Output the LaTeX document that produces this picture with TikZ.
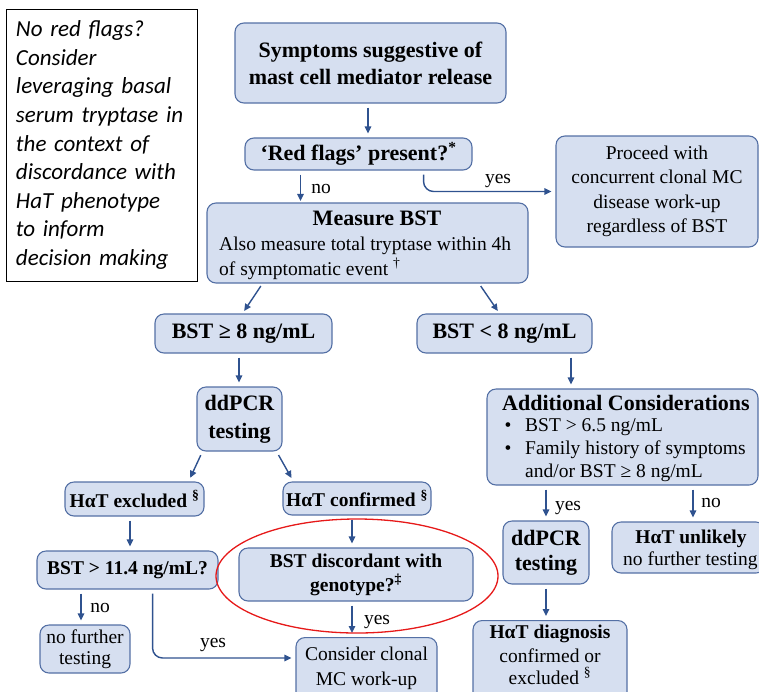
\documentclass[tikz,border=0pt]{standalone}
\usepackage{fontspec}
\setmainfont{Liberation Serif}
\newfontfamily\notefont{Carlito}
\usetikzlibrary{arrows.meta,shapes.geometric}

\definecolor{boxfill}{RGB}{214,223,240}
\definecolor{boxline}{RGB}{84,112,165}
\definecolor{arrowc}{RGB}{47,82,143}
\definecolor{ringred}{RGB}{230,25,25}

\newcommand\headfont{\fontsize{22}{27}\selectfont\bfseries}
\newcommand\subheadfont{\fontsize{19.5}{24}\selectfont\bfseries}
\newcommand\plainfont{\fontsize{19.5}{24.5}\selectfont}

\tikzset{
  box/.style={draw=boxline, fill=boxfill, line width=1.1pt, rounded corners=9pt,
    align=center, inner sep=0pt},
  notebox/.style={draw=black, fill=white, line width=1pt, inner sep=0pt,
    align=left, font=\notefont\itshape\fontsize{23}{28.6}\selectfont},
  txt/.style={inner sep=0pt, anchor=base},
  lbl/.style={inner sep=0pt, anchor=base, font=\plainfont},
  flow/.style={draw=arrowc, line width=1.4pt, shorten <=4pt, shorten >=4pt,
    -{Triangle[length=7pt,width=6.5pt]}},
  ring/.style={draw=ringred, line width=1.3pt, ellipse, inner sep=0pt},
}

\begin{document}
\begin{tikzpicture}[x=1pt,y=-1pt]
\useasboundingbox (0,0) rectangle (759,691);
\clip (0,0) rectangle (759,691);

% side note
\node[notebox, minimum width=191, minimum height=272, text width=171] (note) at (101.5,145)
  {No red flags?\\ Consider\\ leveraging basal\\ serum tryptase in\\ the context of\\
   discordance with\\ HaT phenotype\\ to inform\\ decision making};

% top of the flow
\node[box, minimum width=271, minimum height=80, font=\headfont] (sym) at (370.5,63)
  {Symptoms suggestive of\\ mast cell mediator release};
\node[box, minimum width=227, minimum height=32, font=\headfont] (red) at (358.5,154)
  {‘Red flags’ present?\textsuperscript{*}};
\node[box, minimum width=202, minimum height=111, font=\plainfont] (proceed) at (657,191.5)
  {Proceed with\\ concurrent clonal MC\\ disease work-up\\ regardless of BST};

% measure basal serum tryptase
\node[box, minimum width=321, minimum height=80] (meas) at (367.5,243) {};
\node[txt, font=\headfont] (meastitle) at (377,225) {Measure BST};
\node[txt, anchor=base west, font=\plainfont] (measline1) at (219,250)
  {Also measure total tryptase within 4h};
\node[txt, anchor=base west, font=\plainfont] (measline2) at (219,275)
  {of symptomatic event \textsuperscript{†}};

% tryptase level branches
\node[box, minimum width=177, minimum height=39, font=\headfont] (bstge) at (243.5,333.5)
  {BST ≥ 8 ng/mL};
\node[box, minimum width=175, minimum height=39, font=\headfont] (bstlt) at (504.5,333.5)
  {BST < 8 ng/mL};

% left branch
\node[box, minimum width=85, minimum height=64, font=\fontsize{22}{28}\selectfont\bfseries]
  (dd1) at (239.5,419) {ddPCR\\ testing};
\node[box, minimum width=139, minimum height=34, font=\subheadfont] (excl) at (134.5,499)
  {HαT excluded \textsuperscript{§}};
\node[box, minimum width=148, minimum height=33, font=\subheadfont] (conf) at (357,498.5)
  {HαT confirmed \textsuperscript{§}};
\node[box, minimum width=181, minimum height=38, font=\subheadfont] (bst11) at (127.5,570)
  {BST > 11.4 ng/mL?};
\node[box, minimum width=234, minimum height=53, font=\subheadfont] (disc) at (356,574.5)
  {BST discordant with\\ genotype?\textsuperscript{‡}};
\node[box, minimum width=90, minimum height=48, font=\fontsize{19.5}{21}\selectfont]
  (nofur) at (85,649) {no further\\ testing};
\node[box, minimum width=141, minimum height=70, anchor=north] (cons) at (366.5,637) {};
\node[txt, font=\plainfont] (consline1) at (366.5,660) {Consider clonal};
\node[txt, font=\plainfont] (consline2) at (366.5,685) {MC work-up};

% right branch
\node[box, minimum width=271, minimum height=96] (add) at (622.5,437) {};
\node[txt, anchor=base west, font=\headfont] (addtitle) at (502,410) {Additional Considerations};
\node[txt, font=\plainfont] (bul1) at (508,431) {•};
\node[txt, anchor=base west, font=\plainfont] (add1) at (525,431) {BST > 6.5 ng/mL};
\node[txt, font=\plainfont] (bul2) at (508,454) {•};
\node[txt, anchor=base west, font=\plainfont] (add2) at (525,454) {Family history of symptoms};
\node[txt, anchor=base west, font=\plainfont] (add3) at (525,477) {and/or BST ≥ 8 ng/mL};

\node[box, minimum width=86, minimum height=63, font=\fontsize{22}{25}\selectfont\bfseries]
  (dd2) at (546,552.5) {ddPCR\\ testing};
\node[box, minimum width=153, minimum height=51] (unl) at (688.5,547.5) {};
\node[txt, font=\subheadfont] (unltitle) at (691,543) {HαT unlikely};
\node[txt, anchor=base west, font=\plainfont] (unlline) at (623,565) {no further testing};
\node[box, minimum width=154, minimum height=90, anchor=north] (diag) at (550,620) {};
\node[txt, font=\subheadfont] (diagtitle) at (550,638) {HαT diagnosis};
\node[txt, font=\plainfont] (diagline1) at (550,662) {confirmed or};
\node[txt, font=\plainfont] (diagline2) at (550,684) {excluded \textsuperscript{§}};

% connectors
\draw[flow] ([xshift=-2.5pt]sym.south) -- ([xshift=-2.5pt]sym.south |- red.north);
\draw[flow, shorten >=1.5pt] ([xshift=-58pt]red.south) -- ([xshift=-58pt]red.south |- meas.north);
\draw[flow, rounded corners=10pt] ([xshift=-49pt]red.south east) |- (proceed.west);
\draw[flow, shorten <=3pt, shorten >=3pt] ([xshift=-105pt]meas.south) -- ([xshift=-1pt]bstge.north);
\draw[flow, shorten <=3pt, shorten >=3pt] ([xshift=111.5pt]meas.south) -- ([xshift=-5pt]bstlt.north);
\draw[flow] ([xshift=-4.5pt]bstge.south) -- ([xshift=-4.5pt]bstge.south |- dd1.north);
\draw[flow] ([xshift=66.5pt]bstlt.south) -- ([xshift=66.5pt]bstlt.south |- add.north);
\draw[flow] ([xshift=6pt]dd1.south west) -- ([xshift=-16pt]excl.north east);
\draw[flow] ([xshift=-6pt]dd1.south east) -- ([xshift=11pt]conf.north west);
\draw[flow] ([xshift=-4.5pt]excl.south) -- ([xshift=-4.5pt]excl.south |- bst11.north);
\draw[flow] ([xshift=-5pt]conf.south) -- ([xshift=-5pt]conf.south |- disc.north);
\draw[flow] ([xshift=-46.5pt]bst11.south) -- ([xshift=-46.5pt]bst11.south |- nofur.north);
\draw[flow, rounded corners=10pt] ([xshift=-66pt]bst11.south east) |- ([yshift=-21pt]cons.north west);
\draw[flow] ([xshift=-4pt]disc.south) -- ([xshift=-4pt]disc.south |- cons.north);
\draw[flow] ([xshift=-76.5pt]add.south) -- ([xshift=-76.5pt]add.south |- dd2.north);
\draw[flow] ([xshift=70.5pt]add.south) -- ([xshift=70.5pt]add.south |- unl.north);
\draw[flow] (dd2.south) -- (dd2.south |- diag.north);

% connector labels
\node[lbl] (no1) at (321,193) {no};
\node[lbl] (yes1) at (498,183) {yes};
\node[lbl] (no2) at (100,612) {no};
\node[lbl] (yes2) at (213,647) {yes};
\node[lbl] (yes3) at (377,624) {yes};
\node[lbl] (yes4) at (568,510) {yes};
\node[lbl] (no3) at (711,507) {no};

% highlight ring
\node[ring, minimum width=282, minimum height=114] (hl) at (357,576) {};
\end{tikzpicture}
\end{document}
